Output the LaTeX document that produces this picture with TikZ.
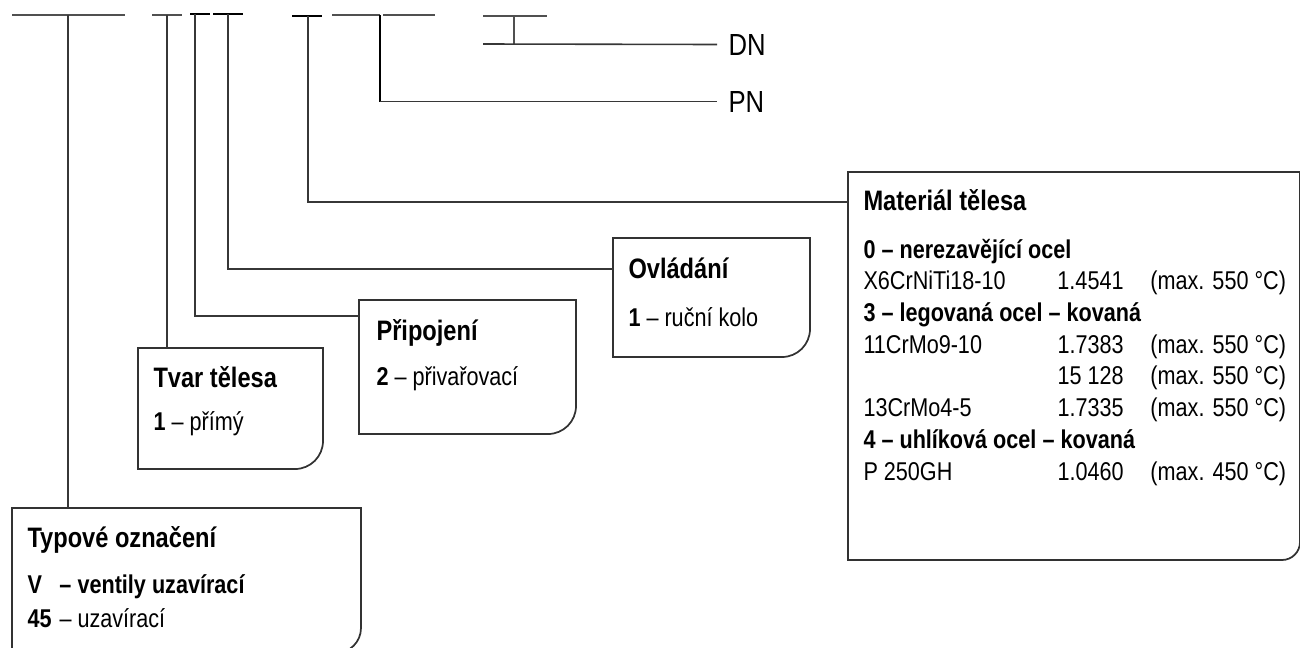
\documentclass[tikz,border=0pt]{standalone}
\usepackage{fontspec}
\setmainfont[FakeStretch=0.84]{Liberation Sans}
\usetikzlibrary{calc}

\tikzset{every picture/.style={line width=0.75pt}}

\begin{document}
\begin{tikzpicture}[x=0.75pt,y=0.75pt,yscale=-1,xscale=1,
    lead/.style={color={rgb, 255:red, 55; green, 55; blue, 55 }, line width=1.2pt},
    bar/.style={color={rgb, 255:red, 80; green, 80; blue, 80 }, line width=1.2pt},
    barblack/.style={color=black, line width=1.5pt},
    frameline/.style={color={rgb, 255:red, 50; green, 50; blue, 50 }, line width=1.3pt},
    frame/.style={draw=none, inner sep=0pt, anchor=north west},
    ttl/.style={anchor=base west, inner sep=0pt, font=\fontsize{21.1}{25}\selectfont\bfseries},
    txt/.style={anchor=base west, inner sep=0pt, font=\fontsize{19.3}{23.8}\selectfont},
    dnpn/.style={anchor=base west, inner sep=0pt, font=\fontsize{22.9}{26}\selectfont}]
    \useasboundingbox (0,0) rectangle (1300,647);

    %Shape: Top bar
    \draw[bar] (12,15) -- (125,15) ;
    \draw[bar] (152,15) -- (182,15) ;
    \draw[barblack] (190,14) -- (210,14) ;
    \draw[barblack] (213,14) -- (243,14) ;
    \draw[barblack] (292,16) -- (322,16) ;
    \draw[bar] (332,15) -- (380,15) ;
    \draw[bar] (383,15) -- (435,15) ;
    \draw[bar] (483,16) -- (547,16) ;
    \draw[bar] (514,16) -- (514,44) ;

    %Taps
    \coordinate (k1) at (68,15);
    \coordinate (k2) at (167,15);
    \coordinate (k3) at (195,14);
    \coordinate (k4) at (228,14);
    \coordinate (k5) at (308,16);
    \coordinate (k6) at (380,15);
    \coordinate (k7) at (483,44);

    %Shape: Frames
    \node[frame, minimum width=261pt, minimum height=108pt] (typ) at (12,508) {};
    \node[frame, minimum width=138pt, minimum height=90pt] (tvar) at (138,348) {};
    \node[frame, minimum width=162pt, minimum height=99.75pt] (pri) at (359,300) {};
    \node[frame, minimum width=147pt, minimum height=88.5pt] (ovl) at (613,238) {};
    \node[frame, minimum width=338.25pt, minimum height=290.25pt] (mat) at (848,172) {};

    \draw[frameline] (typ.north west) -- (typ.north east) -- ($(typ.south east)+(0,-25)$) arc[start angle=0, end angle=90, radius=25] -- (typ.south west) -- cycle ;
    \draw[frameline] (tvar.north west) -- (tvar.north east) -- ($(tvar.south east)+(0,-28)$) arc[start angle=0, end angle=90, radius=28] -- (tvar.south west) -- cycle ;
    \draw[frameline] (pri.north west) -- (pri.north east) -- ($(pri.south east)+(0,-28)$) arc[start angle=0, end angle=90, radius=28] -- (pri.south west) -- cycle ;
    \draw[frameline] (ovl.north west) -- (ovl.north east) -- ($(ovl.south east)+(0,-28)$) arc[start angle=0, end angle=90, radius=28] -- (ovl.south west) -- cycle ;
    \draw[frameline] (mat.north west) -- (mat.north east) -- ($(mat.south east)+(0,-18)$) arc[start angle=0, end angle=90, radius=18] -- (mat.south west) -- cycle ;

    % Text Node
    \node[dnpn] (dn) at (728,55) {DN};
    % Text Node
    \node[dnpn] (pn) at (728,112) {PN};

    %Straight Lines
    \draw[lead] (k1) -- (k1 |- typ.north) ;
    \draw[lead] (k2) -- (k2 |- tvar.north) ;
    \draw[lead] (k3) |- ($(pri.north west)+(0,16)$) ;
    \draw[lead] (k4) |- ($(ovl.north west)+(0,31)$) ;
    \draw[lead] (k5) |- ($(mat.north west)+(0,30)$) ;
    \draw[barblack] (k6) -- (k6 |- pn.west) ;
    \draw[lead] (k6 |- pn.west) -- ($(pn.west)+(-11,0)$) ;
    \draw[lead] (k7) -- ($(dn.west)+(-11,0)$) ;

    % Text Node
    \node[ttl] (typ-t) at (27,547) {Typové označení};
    % Text Node
    \node[txt] (typ-a) at (27,593) {\bfseries\makebox[24pt][l]{V}– ventily uzavírací};
    % Text Node
    \node[txt] (typ-b) at (27,627) {\makebox[24pt][l]{\bfseries 45}– uzavírací};
    % Text Node
    \node[ttl] (tvar-t) at (153,387) {Tvar tělesa};
    % Text Node
    \node[txt] (tvar-a) at (153,430) {\textbf{1} – přímý};
    % Text Node
    \node[ttl] (pri-t) at (376,340) {Připojení};
    % Text Node
    \node[txt] (pri-a) at (376,385) {\textbf{2} – přivařovací};
    % Text Node
    \node[ttl] (ovl-t) at (628,278) {Ovládání};
    % Text Node
    \node[txt] (ovl-a) at (628,326) {\textbf{1} – ruční kolo};
    % Text Node
    \node[ttl] (mat-t) at (863,210) {Materiál tělesa};
    % Text Node
    \node[txt] (mat-a) at (863,258) {\begin{tabular}[t]{@{}p{145.5pt}@{}p{69.75pt}@{}l@{}}
        \multicolumn{3}{@{}l@{}}{\bfseries 0 – nerezavějící ocel}\\
        X6CrNiTi18-10 & 1.4541 & (max. 550 °C)\\
        \multicolumn{3}{@{}l@{}}{\bfseries 3 – legovaná ocel – kovaná}\\
        11CrMo9-10 & 1.7383 & (max. 550 °C)\\
         & 15 128 & (max. 550 °C)\\
        13CrMo4-5 & 1.7335 & (max. 550 °C)\\
        \multicolumn{3}{@{}l@{}}{\bfseries 4 – uhlíková ocel – kovaná}\\
        P 250GH & 1.0460 & (max. 450 °C)
    \end{tabular}};

\end{tikzpicture}
\end{document}
